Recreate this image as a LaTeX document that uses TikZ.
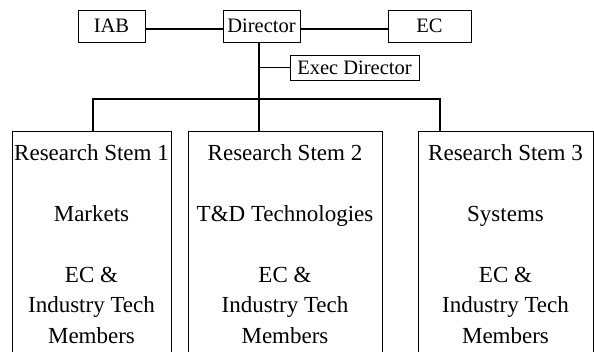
\documentclass[tikz,border=0pt]{standalone}
\usepackage{fontspec}
\setmainfont{Liberation Serif}
\usetikzlibrary{positioning}

\begin{document}
\begin{tikzpicture}[x=1pt, y=-1pt,
        box/.style = {rectangle, draw, line width=0.8pt, inner sep=0pt,
                      minimum width=#1, minimum height=32pt,
                      font=\fontsize{20.5}{24}\selectfont},
    stembox/.style = {rectangle, draw, line width=0.8pt, anchor=north,
                      minimum width=#1, minimum height=240pt},
   stemtext/.style = {anchor=north, inner sep=0pt, align=center,
                      font=\fontsize{23}{30.5}\selectfont},
       link/.style = {line width=1.6pt}
                        ]
\clip (0,0) rectangle (594,351);
% top row
\node (iab) [box=67pt] at (111.5,26) {IAB};
\node (dir) [box=77pt] at (261.5,26) {Director};
\node (ec) [box=83pt] at (429.5,26) {EC};
\node (exec) [box=129pt, minimum height=25pt] at (354.5,67.5) {Exec Director};
\coordinate (bus) at (259,99);
\coordinate (busl) at (93,99);
\coordinate (busr) at (440,99);
% research stems
\node (stem1) [stembox=159pt] at (91.5,131) {};
\node (stem2) [stembox=194pt] at (285,131) {};
\node (stem3) [stembox=175pt] at (505.5,131) {};
\node (text1) [stemtext] at ([yshift=-13pt]stem1.north)
    {Research Stem 1\\[30.5pt]Markets\\[30.5pt]EC \&\\Industry Tech\\Members};
\node (text2) [stemtext] at ([yshift=-13pt]stem2.north)
    {Research Stem 2\\[30.5pt]T\&D Technologies\\[30.5pt]EC \&\\Industry Tech\\Members};
\node (text3) [stemtext] at ([yshift=-13pt]stem3.north)
    {Research Stem 3\\[30.5pt]Systems\\[30.5pt]EC \&\\Industry Tech\\Members};
% links
\draw[link] ([yshift=-3pt]iab.east) to ([yshift=-3pt]dir.west);
\draw[link] ([yshift=-3pt]dir.east) to ([yshift=-3pt]ec.west);
\draw[link] (dir.south -| bus) to (bus);
\draw[link] (bus |- exec.west) to (exec.west);
\draw[link] (stem1.north -| busl) -- (busl) -- (busr) -- (stem3.north -| busr);
\draw[link] (bus) to (stem2.north -| bus);
\end{tikzpicture}
\end{document}
